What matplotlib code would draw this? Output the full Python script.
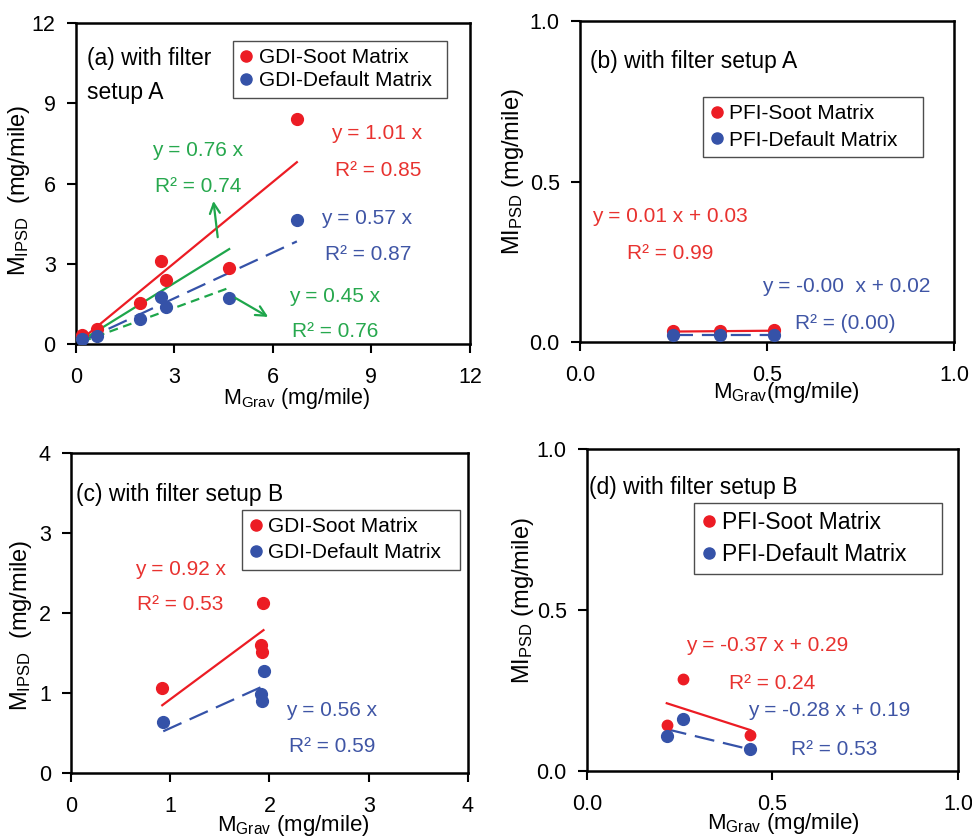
import numpy as np
import matplotlib
matplotlib.use("Agg")
import matplotlib.pyplot as plt
from matplotlib.lines import Line2D

# ---------------------------------------------------------------------
# STYLE
# ---------------------------------------------------------------------
plt.rcParams.update({
    "font.family": ["Liberation Sans", "DejaVu Sans"],
    "mathtext.default": "regular",
    "font.size": 15,
})

RED = '#ec1c24'
BLUE = '#3552a8'
GREEN = '#1ea64b'
RED_TXT = '#e8322f'
BLUE_TXT = '#3f55a5'
GREEN_TXT = '#27a84e'

LONG_DASH = (9, 4)
SHORT_DASH = (4, 2.5)
TITLE_FS = 16.5
LABEL_FS = 17

# ---------------------------------------------------------------------
# DATA
# ---------------------------------------------------------------------
# (a) GDI, filter setup A
a_x = [0.20, 0.65, 1.95, 2.60, 2.75, 4.67, 6.73]
a_soot = [0.34, 0.55, 1.54, 3.11, 2.38, 2.83, 8.41]
a_default = [0.17, 0.31, 0.92, 1.77, 1.40, 1.71, 4.64]
a_slope_soot, a_slope_default = 1.01, 0.57
a_slope_soot_sub, a_slope_default_sub = 0.76, 0.45   # fits without highest point

# (b) PFI, filter setup A
b_x = [0.25, 0.375, 0.52]
b_soot = [0.033, 0.034, 0.037]
b_default = [0.022, 0.021, 0.022]
b_fit_soot = (0.01, 0.03)
b_fit_default = (0.0, 0.022)

# (c) GDI, filter setup B
c_x_soot = [0.92, 1.94, 1.92, 1.93]
c_soot = [1.06, 2.13, 1.60, 1.51]
c_x_default = [0.93, 1.95, 1.92, 1.93]
c_default = [0.64, 1.27, 0.99, 0.90]
c_slope_soot, c_slope_default = 0.92, 0.56

# (d) PFI, filter setup B
d_x = [0.215, 0.258, 0.440]
d_soot = [0.143, 0.285, 0.112]
d_default = [0.109, 0.160, 0.068]
d_fit_soot = (-0.37, 0.29)
d_fit_default = (-0.28, 0.19)


# ---------------------------------------------------------------------
def style_axes(ax, xlim, ylim, ticks_x, ticks_y, fmt):
    ax.set_xlim(*xlim)
    ax.set_ylim(*ylim)
    ax.set_xticks(ticks_x)
    ax.set_yticks(ticks_y)
    ax.set_xticklabels([fmt.format(t) for t in ticks_x])
    ax.set_yticklabels([fmt.format(t) for t in ticks_y])
    for s in ax.spines.values():
        s.set_linewidth(1.8)
    ax.tick_params(direction='out', length=6.5, width=1.5, labelsize=15.5,
                   top=False, right=False)
    ax.tick_params(axis='x', pad=10)
    ax.tick_params(axis='y', pad=8)


def add_legend(ax, labels, anchor, width, fs=15, spacing=0.3):
    handles = [
        Line2D([0], [0], marker='o', ls='none', color=RED, ms=8, label=labels[0]),
        Line2D([0], [0], marker='o', ls='none', color=BLUE, ms=8, label=labels[1]),
    ]
    leg = ax.legend(handles=handles, loc='upper left',
                    bbox_to_anchor=(anchor[0], anchor[1] - 0.5, width, 0.5),
                    mode='expand', borderaxespad=0, fontsize=fs,
                    handlelength=0.6, handletextpad=0.3, labelspacing=spacing,
                    borderpad=0.35, fancybox=False, framealpha=1,
                    edgecolor='0.3')
    leg.get_frame().set_linewidth(1.0)


def fit_line(xs, slope, intercept=0.0):
    xs = np.array([min(xs), max(xs)])
    return xs, slope * xs + intercept


fig = plt.figure(figsize=(9.72, 8.38), dpi=100)

# ---------------- (a) ----------------
ax = fig.add_axes([0.078, 0.5895, 0.4055, 0.383])
ax.plot(a_x, a_soot, 'o', color=RED, ms=8.5, zorder=3)
ax.plot(a_x, a_default, 'o', color=BLUE, ms=8.5, zorder=3)
ax.plot(*fit_line(a_x, a_slope_soot), color=RED, lw=1.6)
ax.plot(*fit_line(a_x, a_slope_default), color=BLUE, lw=1.6, dashes=LONG_DASH)
ax.plot(*fit_line(a_x[:-1], a_slope_soot_sub), color=GREEN, lw=1.6)
ax.plot(*fit_line(a_x[:-1], a_slope_default_sub), color=GREEN, lw=1.6, dashes=SHORT_DASH)
ax.annotate('', xy=(4.18, 5.45), xytext=(4.33, 3.89),
            arrowprops=dict(arrowstyle='->', color=GREEN, lw=1.6, mutation_scale=18))
ax.annotate('', xy=(5.93, 0.96), xytext=(4.79, 1.77),
            arrowprops=dict(arrowstyle='->', color=GREEN, lw=1.6, mutation_scale=18))
ax.text(9.16, 7.88, 'y = 1.01 x', color=RED_TXT, ha='center', va='center')
ax.text(9.2, 6.5, 'R² = 0.85', color=RED_TXT, ha='center', va='center')
ax.text(3.72, 7.25, 'y = 0.76 x', color=GREEN_TXT, ha='center', va='center')
ax.text(3.72, 5.88, 'R² = 0.74', color=GREEN_TXT, ha='center', va='center')
ax.text(8.85, 4.70, 'y = 0.57 x', color=BLUE_TXT, ha='center', va='center')
ax.text(8.9, 3.36, 'R² = 0.87', color=BLUE_TXT, ha='center', va='center')
ax.text(7.89, 1.77, 'y = 0.45 x', color=GREEN_TXT, ha='center', va='center')
ax.text(7.89, 0.46, 'R² = 0.76', color=GREEN_TXT, ha='center', va='center')
ax.text(0.028, 0.89, '(a) with filter', transform=ax.transAxes, ha='left',
        va='center', fontsize=TITLE_FS)
ax.text(0.028, 0.785, 'setup A', transform=ax.transAxes, ha='left',
        va='center', fontsize=TITLE_FS)
style_axes(ax, (0, 12), (0, 12), [0, 3, 6, 9, 12], [0, 3, 6, 9, 12], '{:g}')
add_legend(ax, ['GDI-Soot Matrix', 'GDI-Default Matrix'], (0.398, 0.944), 0.543,
           spacing=0.2)
ax.set_ylabel('M$_{IPSD}$  (mg/mile)', va='center', fontsize=LABEL_FS)
ax.yaxis.set_label_coords(-0.145, 0.48)
ax.set_xlabel('M$_{Grav}$ (mg/mile)', va='center', fontsize=15.5)
ax.xaxis.set_label_coords(0.561, -0.17)

# ---------------- (b) ----------------
ax = fig.add_axes([0.5967, 0.5919, 0.3848, 0.383])
ax.plot(b_x, b_soot, 'o', color=RED, ms=8.5, zorder=3)
ax.plot(b_x, b_default, 'o', color=BLUE, ms=8.5, zorder=3)
ax.plot(*fit_line(b_x, *b_fit_soot), color=RED, lw=1.6)
ax.plot(*fit_line(b_x, *b_fit_default), color=BLUE, lw=1.6, dashes=LONG_DASH)
ax.text(0.031, 0.39, 'y = 0.01 x + 0.03', color=RED_TXT, ha='left', va='center')
ax.text(0.125, 0.276, 'R² = 0.99', color=RED_TXT, ha='left', va='center')
ax.text(0.486, 0.172, 'y = -0.00  x + 0.02', color=BLUE_TXT, ha='left', va='center')
ax.text(0.575, 0.058, 'R² = (0.00)', color=BLUE_TXT, ha='left', va='center')
ax.text(0.028, 0.875, '(b) with filter setup A', transform=ax.transAxes,
        ha='left', va='center', fontsize=TITLE_FS)
style_axes(ax, (0, 1), (0, 1), [0, 0.5, 1.0], [0, 0.5, 1.0], '{:.1f}')
add_legend(ax, ['PFI-Soot Matrix', 'PFI-Default Matrix'], (0.329, 0.763), 0.588,
           spacing=0.35)
ax.set_ylabel('MI$_{PSD}$ (mg/mile)', va='center', fontsize=LABEL_FS)
ax.yaxis.set_label_coords(-0.178, 0.53)
ax.set_xlabel('M$_{Grav}$(mg/mile)', va='center', fontsize=16)
ax.xaxis.set_label_coords(0.551, -0.156)

# ---------------- (c) ----------------
ax = fig.add_axes([0.073, 0.0776, 0.4084, 0.382])
ax.plot(c_x_soot, c_soot, 'o', color=RED, ms=8.5, zorder=3)
ax.plot(c_x_default, c_default, 'o', color=BLUE, ms=8.5, zorder=3)
ax.plot(*fit_line(c_x_soot, c_slope_soot), color=RED, lw=1.6)
ax.plot(*fit_line(c_x_default, c_slope_default), color=BLUE, lw=1.6, dashes=LONG_DASH)
ax.text(1.1, 2.54, 'y = 0.92 x', color=RED_TXT, ha='center', va='center')
ax.text(1.1, 2.1, 'R² = 0.53', color=RED_TXT, ha='center', va='center')
ax.text(2.63, 0.78, 'y = 0.56 x', color=BLUE_TXT, ha='center', va='center')
ax.text(2.63, 0.33, 'R² = 0.59', color=BLUE_TXT, ha='center', va='center')
ax.text(0.013, 0.87, '(c) with filter setup B', transform=ax.transAxes,
        ha='left', va='center', fontsize=TITLE_FS)
style_axes(ax, (0, 4), (0, 4), [0, 1, 2, 3, 4], [0, 1, 2, 3, 4], '{:g}')
add_legend(ax, ['GDI-Soot Matrix', 'GDI-Default Matrix'], (0.431, 0.822), 0.549,
           spacing=0.35)
ax.set_ylabel('M$_{IPSD}$  (mg/mile)', va='center', fontsize=LABEL_FS)
ax.yaxis.set_label_coords(-0.125, 0.46)
ax.set_xlabel('M$_{Grav}$ (mg/mile)', va='center', fontsize=16)
ax.xaxis.set_label_coords(0.559, -0.165)

# ---------------- (d) ----------------
ax = fig.add_axes([0.6039, 0.080, 0.3817, 0.384])
ax.plot(d_x, d_soot, 'o', color=RED, ms=7.5, zorder=3)
ax.plot(d_x, d_default, 'o', color=BLUE, ms=8.5, zorder=3)
ax.plot(*fit_line(d_x, *d_fit_soot), color=RED, lw=1.6)
ax.plot(*fit_line(d_x, *d_fit_default), color=BLUE, lw=1.6, dashes=LONG_DASH)
ax.text(0.267, 0.391, 'y = -0.37 x + 0.29', color=RED_TXT, ha='left', va='center')
ax.text(0.384, 0.272, 'R² = 0.24', color=RED_TXT, ha='left', va='center')
ax.text(0.435, 0.189, 'y = -0.28 x + 0.19', color=BLUE_TXT, ha='left', va='center')
ax.text(0.549, 0.068, 'R² = 0.53', color=BLUE_TXT, ha='left', va='center')
ax.text(0.005, 0.88, '(d) with filter setup B', transform=ax.transAxes,
        ha='left', va='center', fontsize=TITLE_FS)
style_axes(ax, (0, 1), (0, 1), [0, 0.5, 1.0], [0, 0.5, 1.0], '{:.1f}')
add_legend(ax, ['PFI-Soot Matrix', 'PFI-Default Matrix'], (0.288, 0.832), 0.668,
           fs=16.5, spacing=0.4)
ax.set_ylabel('MI$_{PSD}$ (mg/mile)', va='center', fontsize=LABEL_FS)
ax.yaxis.set_label_coords(-0.172, 0.53)
ax.set_xlabel('M$_{Grav}$ (mg/mile)', va='center', fontsize=16)
ax.xaxis.set_label_coords(0.528, -0.162)

fig.savefig('out.png', dpi=100)
